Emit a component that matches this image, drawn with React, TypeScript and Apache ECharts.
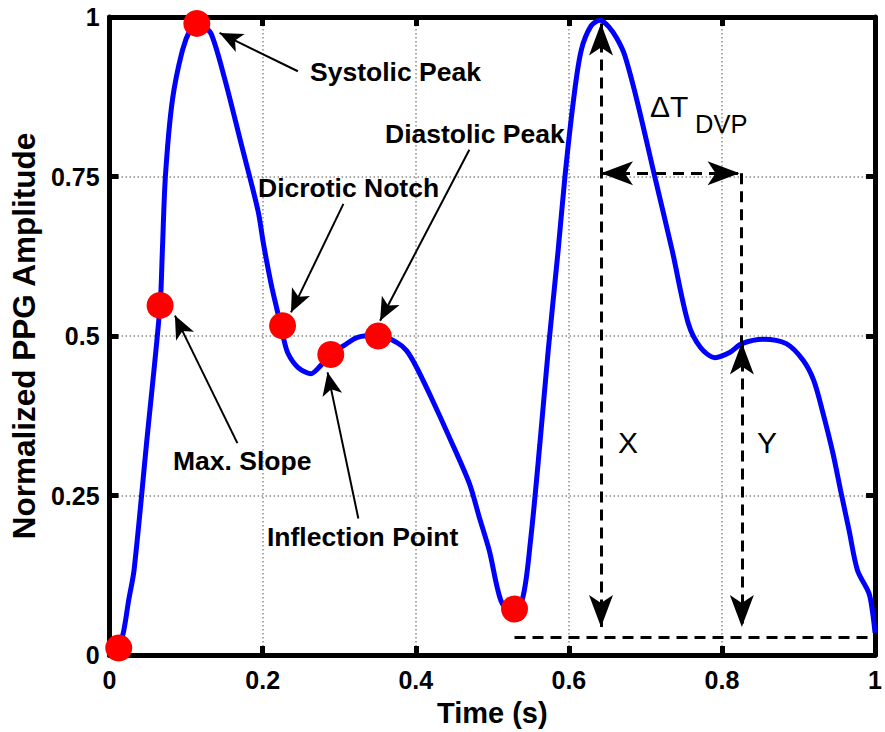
import React, { useEffect, useRef } from "react";
import * as echarts from "echarts";

// PPG waveform
const timeS = [
  0.009, 0.018, 0.025, 0.032, 0.049, 0.066, 0.069, 0.073, 0.082, 0.095, 0.106, 0.114, 0.122, 0.133,
  0.15, 0.172, 0.194, 0.201, 0.211, 0.22, 0.227, 0.233, 0.246, 0.263, 0.276, 0.289, 0.306, 0.324,
  0.351, 0.375, 0.388, 0.401, 0.422, 0.444, 0.47, 0.483, 0.496, 0.511, 0.524, 0.539, 0.55, 0.562,
  0.573, 0.586, 0.595, 0.606, 0.616, 0.629, 0.641, 0.652, 0.663, 0.673, 0.689, 0.712, 0.735, 0.756,
  0.772, 0.791, 0.81, 0.826, 0.854, 0.884, 0.906, 0.92, 0.932, 0.945, 0.955, 0.966, 0.977, 0.992,
  0.997, 1.0,
];
const amplitude = [
  0.0, 0.035, 0.086, 0.133, 0.34, 0.548, 0.634, 0.751, 0.869, 0.947, 0.982, 0.991, 0.987, 0.973,
  0.905, 0.801, 0.696, 0.645, 0.582, 0.535, 0.498, 0.473, 0.451, 0.441, 0.454, 0.471, 0.485, 0.498,
  0.501, 0.49, 0.477, 0.451, 0.399, 0.341, 0.269, 0.216, 0.164, 0.086, 0.067, 0.086, 0.18, 0.329,
  0.477, 0.634, 0.751, 0.869, 0.947, 0.986, 0.995, 0.985, 0.966, 0.94, 0.869, 0.751, 0.634, 0.52,
  0.482, 0.466, 0.474, 0.488, 0.495, 0.488, 0.462, 0.43, 0.379, 0.316, 0.258, 0.196, 0.133, 0.097,
  0.065, 0.035,
];

// Fiducial points (red dots)
const keyTime = [0.012, 0.066, 0.114, 0.226, 0.289, 0.351, 0.529];
const keyAmp = [0.011, 0.548, 0.99, 0.516, 0.471, 0.5, 0.072];

// Annotation labels and their pointer arrows (tail -> tip, data units)
const annotLabels = ["Systolic Peak", "Dicrotic Notch", "Diastolic Peak", "Max. Slope", "Inflection Point"];
const annotTailT = [0.246, 0.3055, 0.47, 0.167, 0.325];
const annotTailA = [0.915, 0.707, 0.792, 0.332, 0.214];
const annotTipT = [0.1437, 0.237, 0.3534, 0.0854, 0.2848];
const annotTipA = [0.975, 0.537, 0.524, 0.532, 0.443];

// Dashed measurement arrows (double headed)
const measFromT = [0.642, 0.826, 0.642];
const measFromA = [0.99, 0.49, 0.755];
const measToT = [0.642, 0.826, 0.823];
const measToA = [0.044, 0.044, 0.755];

// Plain dashed guide lines
const guideFromT = [0.825, 0.529];
const guideFromA = [0.755, 0.028];
const guideToT = [0.825, 1.0];
const guideToA = [0.49, 0.028];

const xTicks = { min: 0, max: 1, interval: 0.2 };
const yTicks = { min: 0, max: 1, interval: 0.25 };

export default function App() {
  const ref = useRef<HTMLDivElement>(null);

  useEffect(() => {
    const chart = echarts.init(ref.current!, null, { renderer: "svg" });
    const font = "'Liberation Sans', Arial, Helvetica, sans-serif";
    const axisLine = { show: true, onZero: false, lineStyle: { color: "#000", width: 5 } };
    const axisTick = { show: true, inside: true, length: 9, lineStyle: { color: "#000", width: 5 } };
    const splitLine = { show: true, lineStyle: { color: "#8a8a8a", width: 1.5, type: [1.5, 2.5] } };
    const tickLabel = { fontSize: 25, fontWeight: "bold", color: "#000", fontFamily: font };
    const titleStyle = { fontSize: 29, fontWeight: "bold", color: "#000", fontFamily: font };

    const curve = timeS.map((t, i) => [t, amplitude[i]]);
    const keys = keyTime.map((t, i) => [t, keyAmp[i]]);

    const end = (t: number, a: number, arrow: boolean, w: number, h: number) =>
      arrow
        ? { coord: [t, a], symbol: "arrow", symbolSize: [w, h] }
        : { coord: [t, a], symbol: "none" };

    const textItem = (text: string, x: number, y: number, size: number, bold: boolean) => ({
      type: "text",
      x,
      y,
      silent: true,
      z: 100,
      style: {
        text,
        fill: "#000",
        fontSize: size,
        fontWeight: bold ? "bold" : "normal",
        fontFamily: font,
        align: "left",
        verticalAlign: "middle",
      },
    });

    chart.setOption({
      animation: false,
      backgroundColor: "#fff",
      grid: { left: 107, right: 5, top: 17, bottom: 77, containLabel: false },
      xAxis: [
        {
          type: "value",
          ...xTicks,
          position: "bottom",
          name: "Time (s)",
          nameLocation: "middle",
          nameGap: 43,
          nameTextStyle: titleStyle,
          axisLine,
          axisTick,
          axisLabel: { ...tickLabel, margin: 12 },
          splitLine,
        },
        {
          type: "value",
          ...xTicks,
          position: "top",
          axisLine,
          axisTick,
          axisLabel: { show: false },
          splitLine: { show: false },
        },
      ],
      yAxis: [
        {
          type: "value",
          ...yTicks,
          position: "left",
          name: "Normalized PPG Amplitude",
          nameLocation: "middle",
          nameGap: 69,
          nameTextStyle: { ...titleStyle, fontSize: 31.5 },
          axisLine,
          axisTick,
          axisLabel: { ...tickLabel, margin: 10 },
          splitLine,
        },
        {
          type: "value",
          ...yTicks,
          position: "right",
          axisLine,
          axisTick,
          axisLabel: { show: false },
          splitLine: { show: false },
        },
      ],
      series: [
        {
          type: "line",
          data: curve,
          smooth: 0.3,
          showSymbol: false,
          symbol: "none",
          lineStyle: { color: "#0000ff", width: 5 },
          z: 3,
          silent: true,
        },
        {
          type: "scatter",
          data: keys,
          symbol: "circle",
          symbolSize: 27,
          itemStyle: { color: "#ff0000", opacity: 1 },
          z: 4,
          silent: true,
        },
        {
          type: "line",
          data: [],
          z: 5,
          markLine: {
            silent: true,
            label: { show: false },
            emphasis: { disabled: true },
            lineStyle: { color: "#000", width: 2, type: "solid" },
            itemStyle: { color: "#000" },
            data: annotLabels.map((_, i) => [
              end(annotTailT[i], annotTailA[i], false, 0, 0),
              end(annotTipT[i], annotTipA[i], true, 15, 23),
            ]),
          },
        },
        {
          type: "line",
          data: [],
          z: 5,
          markLine: {
            silent: true,
            label: { show: false },
            emphasis: { disabled: true },
            lineStyle: { color: "#000", width: 3, type: [11, 7] },
            itemStyle: { color: "#000" },
            data: measFromT.map((_, i) => [
              end(measFromT[i], measFromA[i], true, 18, 32),
              end(measToT[i], measToA[i], true, 18, 32),
            ]),
          },
        },
        {
          type: "line",
          data: [],
          z: 5,
          markLine: {
            silent: true,
            label: { show: false },
            emphasis: { disabled: true },
            lineStyle: { color: "#000", width: 3, type: [11, 7] },
            data: guideFromT.map((_, i) => [
              end(guideFromT[i], guideFromA[i], false, 0, 0),
              end(guideToT[i], guideToA[i], false, 0, 0),
            ]),
          },
        },
      ],
      graphic: [
        textItem("Systolic Peak", 310, 72, 26.5, true),
        textItem("Dicrotic Notch", 258, 188, 26.5, true),
        textItem("Diastolic Peak", 385, 134, 26.5, true),
        textItem("Max. Slope", 173, 461, 26.5, true),
        textItem("Inflection Point", 267, 537, 26.5, true),
        textItem("ΔT", 650, 106, 30, false),
        textItem("DVP", 695, 124, 25.5, false),
        textItem("X", 618, 442, 30, false),
        textItem("Y", 757, 442, 30, false),
      ],
    });

    return () => chart.dispose();
  }, []);

  return (
    <div
      ref={ref}
      style={{ position: "absolute", left: 0, top: 0, width: 885, height: 732, background: "#fff" }}
    />
  );
}
